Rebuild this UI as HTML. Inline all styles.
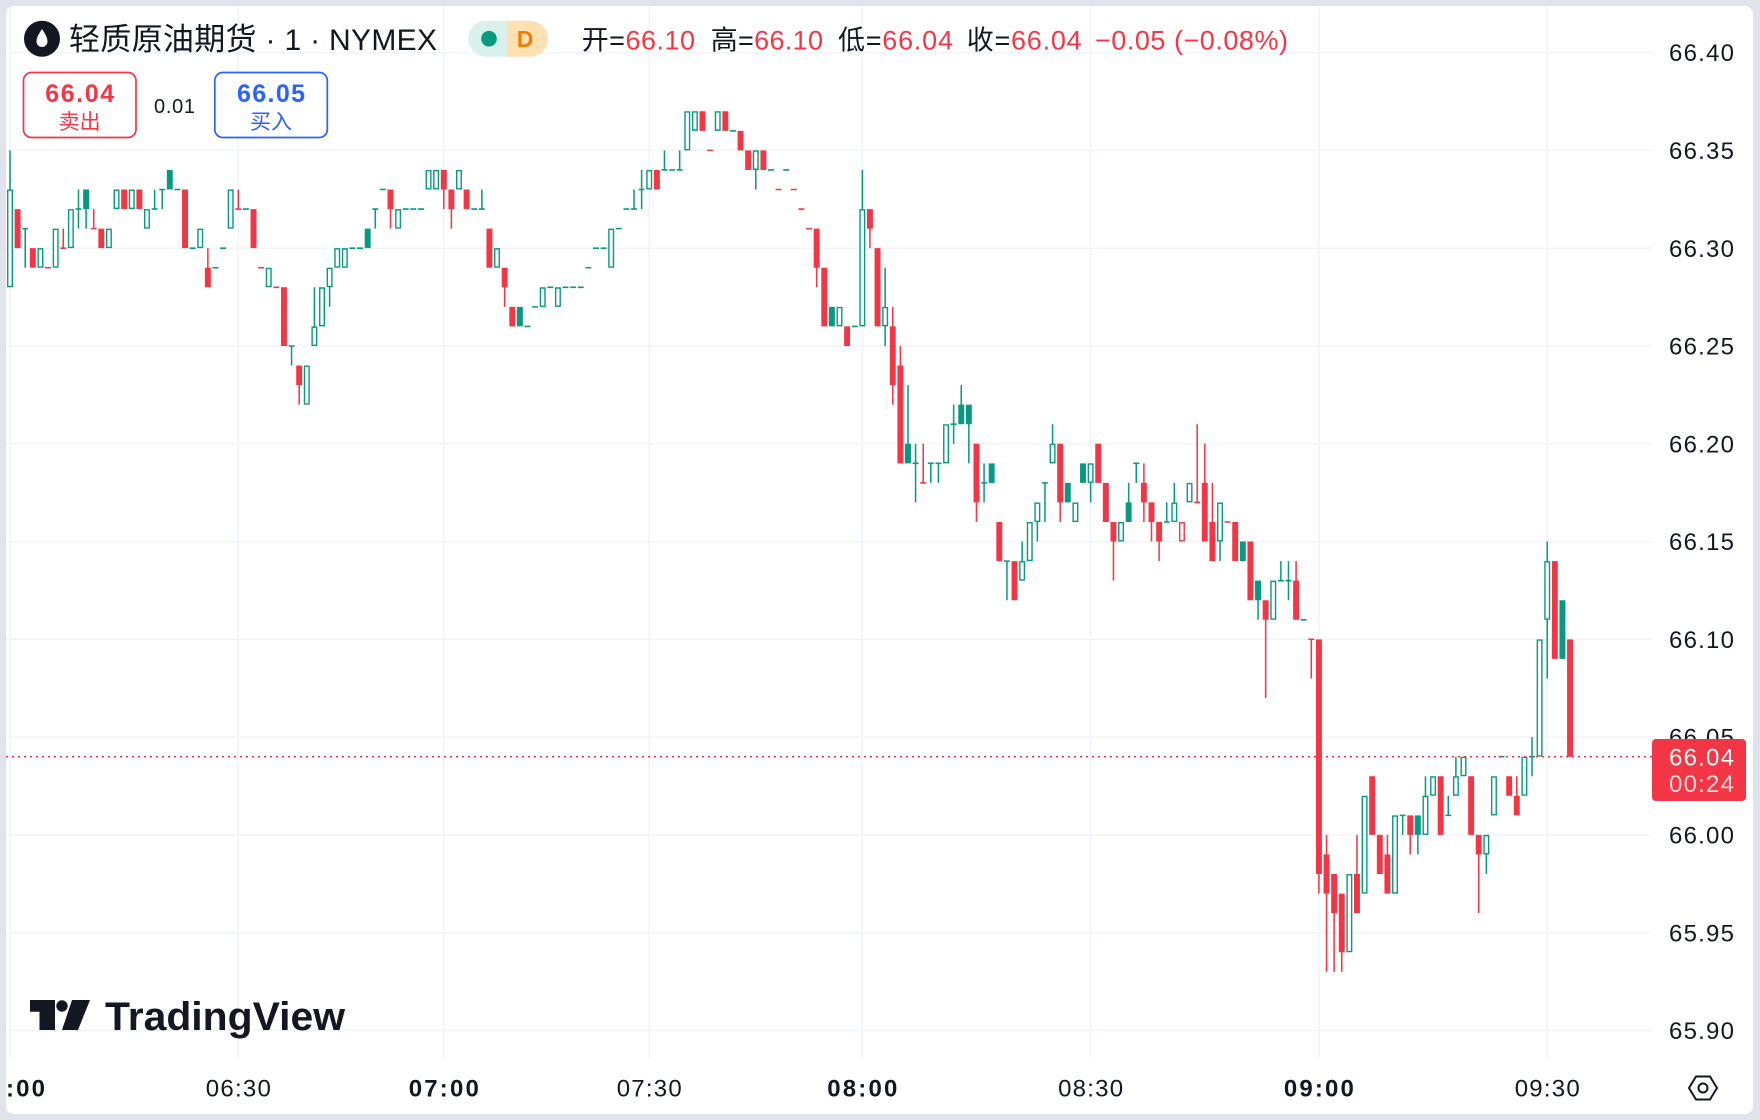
<!DOCTYPE html>
<html>
<head>
<meta charset="utf-8">
<style>
html,body{margin:0;padding:0;background:#e0e3eb;}
body{width:1760px;height:1120px;overflow:hidden;}
svg{display:block;}
text{font-family:"Liberation Sans","Noto Sans CJK SC",sans-serif;}
</style>
</head>
<body>
<svg width="1760" height="1120" viewBox="0 0 1760 1120" xmlns="http://www.w3.org/2000/svg">
<defs>
<clipPath id="card"><rect x="6" y="6" width="1747" height="1108" rx="8"/></clipPath>
<clipPath id="plot"><rect x="6" y="6" width="1646" height="1051"/></clipPath>
</defs>
<rect x="0" y="0" width="1760" height="1120" fill="#e0e3eb"/>
<rect x="6" y="6" width="1747" height="1108" rx="8" fill="#ffffff"/>
<g clip-path="url(#card)">
<g stroke="#f0f3fa" stroke-width="1.5">
<path d="M6 52.6H1652M6 150.4H1652M6 248.2H1652M6 346H1652M6 443.8H1652M6 541.6H1652M6 639.3H1652M6 737.1H1652M6 834.9H1652M6 932.7H1652M6 1030.5H1652"/>
<path d="M10 6V1057M238.3 6V1057M443.8 6V1057M649.2 6V1057M862.3 6V1057M1090.6 6V1057M1318.9 6V1057M1547.2 6V1057"/>
</g>
<g clip-path="url(#plot)">
<g transform="translate(10 52.6) scale(7.61 19.558)">
<path fill="#089981" d="M-.1 5h.2V12h-.2zM1.9 9h.2V11h-.2zM8.9 7h.2V9h-.2zM9.9 7h.2V9h-.2zM18.9 7h.2V8h-.2zM19.9 7h.2V8h-.2zM36.9 15h.2V16h-.2zM39.9 12h.2V15h-.2zM41.9 11h.2V13h-.2zM47.9 8h.2V9h-.2zM61.9 7h.2V8h-.2zM81.9 7h.2V8h-.2zM82.9 6h.2V8h-.2zM85.9 5h.2V6h-.2zM87.9 5h.2V6h-.2zM97.9 5h.2V7h-.2zM111.9 6h.2V14h-.2zM114.9 11h.2V15h-.2zM117.9 17h.2V21h-.2zM118.9 20h.2V23h-.2zM120.9 21h.2V22h-.2zM121.9 21h.2V22h-.2zM123.9 18h.2V20h-.2zM124.9 17h.2V19h-.2zM125.9 18h.2V21h-.2zM127.9 21h.2V23h-.2zM130.9 26h.2V28h-.2zM132.9 25h.2V27h-.2zM134.9 23h.2V25h-.2zM135.9 22h.2V24h-.2zM136.9 19h.2V21h-.2zM141.9 21h.2V23h-.2zM146.9 22h.2V24h-.2zM147.9 21h.2V22h-.2zM151.9 23h.2V24h-.2zM152.9 22h.2V24h-.2zM158.9 23h.2V26h-.2zM163.9 27h.2V29h-.2zM166.9 26h.2V27h-.2zM167.9 26h.2V28h-.2zM182.9 39h.2V40h-.2zM184.9 39h.2V41h-.2zM185.9 37h.2V40h-.2zM188.9 38h.2V39h-.2zM189.9 36h.2V38h-.2zM193.9 40h.2V42h-.2zM199.9 35h.2V37h-.2zM201.9 25h.2V32h-.2zM9.61 7h.78V8h-.78zM20.61 6h.78V7h-.78zM46.61 9h.78V10h-.78zM66.61 13h.78V14h-.78zM107.61 13h.78V14h-.78zM117.61 20h.78V21h-.78zM124.61 18h.78V19h-.78zM125.61 18h.78V19h-.78zM128.61 21h.78V22h-.78zM138.61 22h.78V23h-.78zM140.61 21h.78V22h-.78zM146.61 23h.78V24h-.78zM161.61 25h.78V26h-.78zM163.61 27h.78V28h-.78zM184.61 39h.78V40h-.78zM203.61 28h.78V31h-.78zM1.61 8.96h.78v.08h-.78zM8.61 7.96h.78v.08h-.78zM18.61 7.96h.78v.08h-.78zM19.61 6.96h.78v.08h-.78zM21.61 6.96h.78v.08h-.78zM23.61 9.96h.78v.08h-.78zM26.61 10.96h.78v.08h-.78zM27.61 9.96h.78v.08h-.78zM30.61 7.96h.78v.08h-.78zM36.61 14.96h.78v.08h-.78zM44.61 9.96h.78v.08h-.78zM45.61 9.96h.78v.08h-.78zM47.61 7.96h.78v.08h-.78zM48.61 6.96h.78v.08h-.78zM51.61 7.96h.78v.08h-.78zM52.61 7.96h.78v.08h-.78zM53.61 7.96h.78v.08h-.78zM60.61 7.96h.78v.08h-.78zM61.61 7.96h.78v.08h-.78zM67.61 13.96h.78v.08h-.78zM68.61 12.96h.78v.08h-.78zM70.61 11.96h.78v.08h-.78zM72.61 11.96h.78v.08h-.78zM73.61 11.96h.78v.08h-.78zM74.61 11.96h.78v.08h-.78zM75.61 10.96h.78v.08h-.78zM76.61 9.96h.78v.08h-.78zM77.61 9.96h.78v.08h-.78zM79.61 8.96h.78v.08h-.78zM80.61 7.96h.78v.08h-.78zM81.61 7.96h.78v.08h-.78zM82.61 6.96h.78v.08h-.78zM85.61 5.96h.78v.08h-.78zM86.61 5.96h.78v.08h-.78zM87.61 5.96h.78v.08h-.78zM94.61 3.96h.78v.08h-.78zM99.61 5.96h.78v.08h-.78zM101.61 5.96h.78v.08h-.78zM110.61 13.96h.78v.08h-.78zM118.61 20.96h.78v.08h-.78zM120.61 20.96h.78v.08h-.78zM121.61 20.96h.78v.08h-.78zM123.61 18.96h.78v.08h-.78zM127.61 21.96h.78v.08h-.78zM130.61 25.96h.78v.08h-.78zM135.61 21.96h.78v.08h-.78zM147.61 20.96h.78v.08h-.78zM151.61 23.96h.78v.08h-.78zM166.61 26.96h.78v.08h-.78zM167.61 26.96h.78v.08h-.78zM169.61 28.96h.78v.08h-.78zM182.61 38.96h.78v.08h-.78zM188.61 38.96h.78v.08h-.78zM195.61 35.96h.78v.08h-.78zM199.61 35.96h.78v.08h-.78z"/>
<path fill="#f23645" d="M6.9 9h.2V10h-.2zM10.9 8h.2V9h-.2zM25.9 10h.2V12h-.2zM29.9 7h.2V8h-.2zM37.9 16h.2V18h-.2zM49.9 7h.2V9h-.2zM56.9 6h.2V8h-.2zM57.9 7h.2V9h-.2zM64.9 11h.2V13h-.2zM105.9 9h.2V12h-.2zM112.9 8h.2V10h-.2zM115.9 13h.2V18h-.2zM116.9 15h.2V21h-.2zM119.9 20h.2V22h-.2zM126.9 20h.2V24h-.2zM137.9 20h.2V24h-.2zM144.9 24h.2V27h-.2zM148.9 21h.2V24h-.2zM149.9 23h.2V25h-.2zM150.9 24h.2V26h-.2zM155.9 19h.2V23h-.2zM156.9 20h.2V25h-.2zM157.9 22h.2V26h-.2zM164.9 28h.2V33h-.2zM168.9 26h.2V29h-.2zM170.9 30h.2V32h-.2zM171.9 30h.2V43h-.2zM172.9 40h.2V47h-.2zM173.9 42h.2V47h-.2zM174.9 43h.2V47h-.2zM176.9 40h.2V44h-.2zM180.9 40h.2V43h-.2zM183.9 39h.2V41h-.2zM192.9 40h.2V44h-.2zM197.9 37h.2V39h-.2zM.61 8h.78V10h-.78zM2.61 10h.78V11h-.78zM11.61 9h.78V10h-.78zM14.61 7h.78V8h-.78zM16.61 7h.78V8h-.78zM22.61 7h.78V10h-.78zM25.61 11h.78V12h-.78zM31.61 8h.78V10h-.78zM35.61 12h.78V15h-.78zM37.61 16h.78V17h-.78zM49.61 7h.78V8h-.78zM56.61 6h.78V7h-.78zM57.61 7h.78V8h-.78zM59.61 7h.78V8h-.78zM62.61 9h.78V11h-.78zM64.61 11h.78V12h-.78zM65.61 13h.78V14h-.78zM84.61 6h.78V7h-.78zM90.61 3h.78V4h-.78zM93.61 3h.78V4h-.78zM95.61 4h.78V5h-.78zM96.61 5h.78V6h-.78zM98.61 5h.78V6h-.78zM105.61 9h.78V11h-.78zM106.61 11h.78V14h-.78zM109.61 14h.78V15h-.78zM112.61 8h.78V9h-.78zM113.61 10h.78V14h-.78zM115.61 14h.78V17h-.78zM116.61 16h.78V21h-.78zM126.61 20h.78V23h-.78zM129.61 24h.78V26h-.78zM131.61 26h.78V28h-.78zM137.61 20h.78V23h-.78zM142.61 20h.78V22h-.78zM143.61 22h.78V24h-.78zM144.61 24h.78V25h-.78zM148.61 22h.78V23h-.78zM149.61 23h.78V24h-.78zM150.61 24h.78V25h-.78zM156.61 22h.78V25h-.78zM157.61 24h.78V26h-.78zM160.61 24h.78V26h-.78zM162.61 25h.78V28h-.78zM164.61 28h.78V29h-.78zM168.61 27h.78V29h-.78zM171.61 30h.78V42h-.78zM172.61 41h.78V43h-.78zM173.61 42h.78V44h-.78zM174.61 43h.78V46h-.78zM176.61 42h.78V44h-.78zM178.61 37h.78V40h-.78zM179.61 40h.78V42h-.78zM180.61 41h.78V43h-.78zM183.61 39h.78V40h-.78zM187.61 37h.78V40h-.78zM191.61 37h.78V40h-.78zM192.61 40h.78V41h-.78zM196.61 37h.78V38h-.78zM197.61 38h.78V39h-.78zM202.61 26h.78V31h-.78zM204.61 30h.78V36h-.78zM4.61 10.96h.78v.08h-.78zM6.61 9.96h.78v.08h-.78zM10.61 8.96h.78v.08h-.78zM29.61 7.96h.78v.08h-.78zM32.61 10.96h.78v.08h-.78zM34.61 11.96h.78v.08h-.78zM91.61 4.96h.78v.08h-.78zM100.61 6.96h.78v.08h-.78zM102.61 6.96h.78v.08h-.78zM103.61 7.96h.78v.08h-.78zM104.61 8.96h.78v.08h-.78zM119.61 21.96h.78v.08h-.78zM155.61 22.96h.78v.08h-.78zM159.61 23.96h.78v.08h-.78zM170.61 29.96h.78v.08h-.78z"/>
<path fill="#ffffff" stroke="#089981" stroke-width="1.4" vector-effect="non-scaling-stroke" d="M-.3 7.036h.6v4.928h-.6zM3.7 10.036h.6v.928h-.6zM5.7 9.036h.6v1.928h-.6zM7.7 8.036h.6v1.928h-.6zM12.7 9.036h.6v.928h-.6zM13.7 7.036h.6v.928h-.6zM15.7 7.036h.6v.928h-.6zM17.7 8.036h.6v.928h-.6zM24.7 9.036h.6v.928h-.6zM28.7 7.036h.6v1.928h-.6zM33.7 11.036h.6v.928h-.6zM38.7 16.036h.6v1.928h-.6zM39.7 14.036h.6v.928h-.6zM40.7 12.036h.6v1.928h-.6zM41.7 11.036h.6v.928h-.6zM42.7 10.036h.6v.928h-.6zM43.7 10.036h.6v.928h-.6zM50.7 8.036h.6v.928h-.6zM54.7 6.036h.6v.928h-.6zM55.7 6.036h.6v.928h-.6zM58.7 6.036h.6v.928h-.6zM63.7 10.036h.6v.928h-.6zM69.7 12.036h.6v.928h-.6zM71.7 12.036h.6v.928h-.6zM78.7 9.036h.6v1.928h-.6zM83.7 6.036h.6v.928h-.6zM88.7 3.036h.6v1.928h-.6zM89.7 3.036h.6v.928h-.6zM92.7 3.036h.6v.928h-.6zM97.7 5.036h.6v.928h-.6zM108.7 13.036h.6v.928h-.6zM111.7 8.036h.6v5.928h-.6zM114.7 13.036h.6v.928h-.6zM122.7 19.036h.6v1.928h-.6zM132.7 26.036h.6v.928h-.6zM133.7 24.036h.6v1.928h-.6zM134.7 23.036h.6v.928h-.6zM136.7 20.036h.6v.928h-.6zM139.7 23.036h.6v.928h-.6zM141.7 21.036h.6v.928h-.6zM145.7 24.036h.6v.928h-.6zM152.7 23.036h.6v.928h-.6zM154.7 22.036h.6v.928h-.6zM158.7 23.036h.6v1.928h-.6zM165.7 27.036h.6v1.928h-.6zM175.7 42.036h.6v3.928h-.6zM177.7 38.036h.6v4.928h-.6zM181.7 39.036h.6v3.928h-.6zM185.7 38.036h.6v1.928h-.6zM186.7 37.036h.6v.928h-.6zM189.7 37.036h.6v.928h-.6zM190.7 36.036h.6v.928h-.6zM193.7 40.036h.6v.928h-.6zM194.7 37.036h.6v1.928h-.6zM198.7 36.036h.6v1.928h-.6zM200.7 30.036h.6v5.928h-.6zM201.7 26.036h.6v2.928h-.6z"/>
<path fill="#ffffff" stroke="#f23645" stroke-width="1.4" vector-effect="non-scaling-stroke" d="M153.7 24.036h.6v.928h-.6z"/>
</g>
</g>
<line x1="6" x2="1652" y1="756.7" y2="756.7" stroke="#f23645" stroke-width="1.5" stroke-dasharray="2 4"/>
<g font-size="24" fill="#131722">
<text x="1669" y="61.2" textLength="65" lengthAdjust="spacing">66.40</text>
<text x="1669" y="159" textLength="65" lengthAdjust="spacing">66.35</text>
<text x="1669" y="256.8" textLength="65" lengthAdjust="spacing">66.30</text>
<text x="1669" y="354.6" textLength="65" lengthAdjust="spacing">66.25</text>
<text x="1669" y="452.4" textLength="65" lengthAdjust="spacing">66.20</text>
<text x="1669" y="550.2" textLength="65" lengthAdjust="spacing">66.15</text>
<text x="1669" y="647.9" textLength="65" lengthAdjust="spacing">66.10</text>
<text x="1669" y="745.7" textLength="65" lengthAdjust="spacing">66.05</text>
<text x="1669" y="843.5" textLength="65" lengthAdjust="spacing">66.00</text>
<text x="1669" y="941.3" textLength="65" lengthAdjust="spacing">65.95</text>
<text x="1669" y="1039.1" textLength="65" lengthAdjust="spacing">65.90</text>
</g>
<rect x="1652" y="739" width="94" height="62" rx="4" fill="#f23645"/>
<text x="1669" y="765.5" font-size="24" fill="#ffffff" textLength="65" lengthAdjust="spacing">66.04</text>
<text x="1669" y="792" font-size="24" fill="#ffffff" fill-opacity="0.8" textLength="65" lengthAdjust="spacing">00:24</text>
<g font-size="24" fill="#131722" text-anchor="middle">
<text x="10" y="1096.5" font-weight="bold" textLength="70" lengthAdjust="spacing">06:00</text>
<text x="238.3" y="1096.5" textLength="65" lengthAdjust="spacing">06:30</text>
<text x="443.8" y="1096.5" font-weight="bold" textLength="70" lengthAdjust="spacing">07:00</text>
<text x="649.2" y="1096.5" textLength="65" lengthAdjust="spacing">07:30</text>
<text x="862.3" y="1096.5" font-weight="bold" textLength="70" lengthAdjust="spacing">08:00</text>
<text x="1090.6" y="1096.5" textLength="65" lengthAdjust="spacing">08:30</text>
<text x="1318.9" y="1096.5" font-weight="bold" textLength="70" lengthAdjust="spacing">09:00</text>
<text x="1547.2" y="1096.5" textLength="65" lengthAdjust="spacing">09:30</text>
</g>
<polygon points="1689,1088 1696,1076.5 1710,1076.5 1717,1088 1710,1099.5 1696,1099.5" fill="none" stroke="#131722" stroke-width="2" stroke-linejoin="round"/>
<circle cx="1703" cy="1088" r="4.5" fill="none" stroke="#131722" stroke-width="2"/>
<path d="M30 1000H55V1030H39.5V1011.7H30Z" fill="#131722"/>
<circle cx="62" cy="1006" r="5.7" fill="#131722"/>
<polygon points="72,1000 90,1000 78,1030 62,1030" fill="#131722"/>
<text x="105" y="1030" font-size="40" font-weight="bold" fill="#131722" textLength="240" lengthAdjust="spacingAndGlyphs">TradingView</text>
<circle cx="42" cy="38.7" r="18" fill="#131722"/>
<path d="M42 29C40 32 36.5 37 36.5 41.5A5.5 5.5 0 0 0 47.5 41.5C47.5 37 44 32 42 29Z" fill="#ffffff"/>
<text x="69" y="50" font-size="30" fill="#131722" textLength="368" lengthAdjust="spacing"><tspan font-size="31">轻质原油期货</tspan><tspan> · 1 · NYMEX</tspan></text>
<path d="M486 20.7H507V56.7H486A18 18 0 0 1 486 20.7Z" fill="#daf1eb"/>
<path d="M507 20.7H530A18 18 0 0 1 530 56.7H507Z" fill="#ffe0b2"/>
<circle cx="489" cy="38.7" r="7.8" fill="#089981"/>
<text x="525" y="47" font-size="23" font-weight="bold" fill="#f57c00" text-anchor="middle">D</text>
<g font-size="27">
<text x="581.7" y="49.5" textLength="113.3" lengthAdjust="spacing"><tspan fill="#131722">开=</tspan><tspan fill="#f23645">66.10</tspan></text>
<text x="710.7" y="49.5" textLength="112.3" lengthAdjust="spacing"><tspan fill="#131722">高=</tspan><tspan fill="#f23645">66.10</tspan></text>
<text x="838" y="49.5" textLength="115" lengthAdjust="spacing"><tspan fill="#131722">低=</tspan><tspan fill="#f23645">66.04</tspan></text>
<text x="966.7" y="49.5" textLength="115" lengthAdjust="spacing"><tspan fill="#131722">收=</tspan><tspan fill="#f23645">66.04</tspan></text>
<text x="1095" y="49.5" fill="#f23645" textLength="193" lengthAdjust="spacing">−0.05 (−0.08%)</text>
</g>
<rect x="23.5" y="72.5" width="112.5" height="65" rx="8" fill="#ffffff" stroke="#f23645" stroke-width="1.7"/>
<text x="79.7" y="102" font-size="25" font-weight="bold" fill="#f23645" text-anchor="middle" textLength="69" lengthAdjust="spacing">66.04</text>
<text x="79.7" y="129" font-size="21" fill="#f23645" text-anchor="middle">卖出</text>
<text x="154" y="113" font-size="20" fill="#131722" textLength="41" lengthAdjust="spacing">0.01</text>
<rect x="214.8" y="72.5" width="112.5" height="65" rx="8" fill="#ffffff" stroke="#2962ff" stroke-width="1.7"/>
<text x="271" y="102" font-size="25" font-weight="bold" fill="#2962ff" text-anchor="middle" textLength="68" lengthAdjust="spacing">66.05</text>
<text x="271" y="129" font-size="21" fill="#2962ff" text-anchor="middle">买入</text>
</g>
</svg>
</body>
</html>
